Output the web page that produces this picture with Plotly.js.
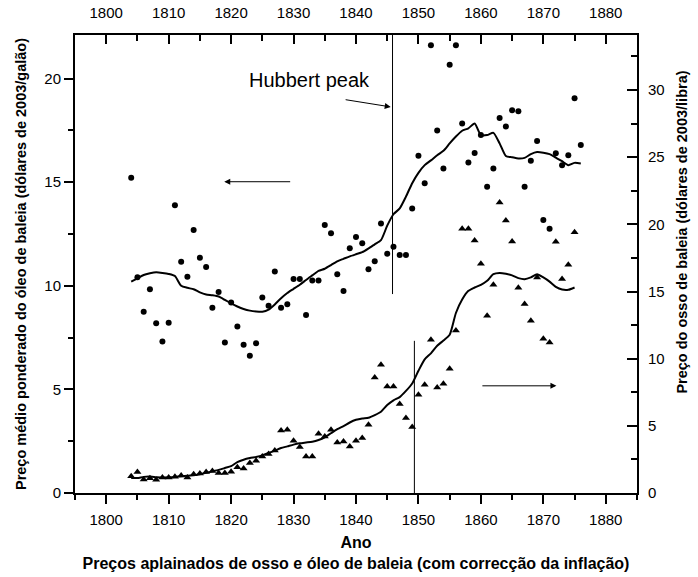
<!DOCTYPE html>
<html>
<head>
<meta charset="utf-8">
<script src="https://cdn.plot.ly/plotly-3.0.1.min.js"></script>
<style>html,body{margin:0;padding:0;background:#fff;}#chart{width:698px;height:577px;}</style>
</head>
<body>
<div id="chart"></div>
<script>
// ---- data ----
const oilYears = [1804,1805,1806,1807,1808,1809,1810,1811,1812,1813,1814,1815,1816,1817,1818,1819,1820,1821,1822,1823,1824,1825,1826,1827,1828,1829,1830,1831,1832,1833,1834,1835,1836,1837,1838,1839,1840,1841,1842,1843,1844,1845,1846,1847,1848,1849,1850,1851,1852,1853,1854,1855,1856,1857,1858,1859,1860,1861,1862,1863,1864,1865,1866,1867,1868,1869,1870,1871,1872,1873,1874,1875,1876];
const oilPrice = [15.21,10.41,8.75,9.83,8.19,7.31,8.22,13.89,11.16,10.43,12.69,11.35,10.91,8.94,9.70,7.26,9.19,8.03,7.15,6.62,7.23,9.43,9.03,10.69,8.94,9.11,10.33,10.33,8.59,10.25,10.25,12.93,12.53,10.56,9.75,11.81,12.35,12.05,10.80,11.18,13.01,11.55,11.88,11.48,11.48,13.73,16.27,14.95,21.60,17.49,15.66,20.66,21.60,17.83,15.95,16.41,17.28,14.78,15.66,18.09,17.69,18.47,18.42,14.78,16.03,16.98,13.17,12.75,16.39,15.82,16.30,19.05,16.79];
const oilSmooth = [10.20,10.36,10.52,10.60,10.65,10.62,10.57,10.47,10.00,9.90,9.83,9.68,9.58,9.54,9.48,9.32,9.15,9.00,8.88,8.80,8.76,8.75,8.85,9.10,9.40,9.65,9.85,10.05,10.28,10.50,10.72,10.82,11.00,11.18,11.30,11.42,11.52,11.62,11.80,12.00,12.20,12.90,13.45,13.73,14.30,14.95,15.45,15.82,16.05,16.30,16.51,16.87,17.20,17.48,17.60,17.83,17.27,17.27,17.38,16.87,16.26,16.20,16.14,16.17,16.35,16.45,16.42,16.35,16.18,16.01,15.82,15.93,15.90];

const boneYears = [1804,1805,1806,1807,1808,1809,1810,1811,1812,1813,1814,1815,1816,1817,1818,1819,1820,1821,1822,1823,1824,1825,1826,1827,1828,1829,1830,1831,1832,1833,1834,1835,1836,1837,1838,1839,1840,1841,1842,1843,1844,1845,1846,1847,1848,1849,1850,1851,1852,1853,1854,1855,1856,1857,1858,1859,1860,1861,1862,1863,1864,1865,1866,1867,1868,1869,1870,1871,1872,1873,1874,1875];
const bonePrice = [1.24,1.56,1.01,1.09,0.99,1.16,1.16,1.21,1.31,1.16,1.40,1.45,1.56,1.64,1.49,1.49,1.58,1.91,1.83,2.23,2.40,2.72,2.90,3.17,4.66,4.71,3.89,3.42,2.72,2.72,4.41,4.21,4.71,3.76,3.84,3.47,3.89,4.09,5.08,8.60,9.55,7.93,7.93,6.62,5.58,4.91,7.31,8.06,11.41,7.86,8.13,9.25,12.10,19.67,19.67,18.80,17.06,13.19,15.50,21.62,20.28,18.72,15.28,14.08,12.82,16.04,11.48,11.21,18.70,15.94,16.99,19.42];
const boneSmooth = [1.12,1.12,1.20,1.22,1.18,1.15,1.17,1.20,1.25,1.28,1.33,1.40,1.50,1.61,1.72,1.86,2.00,2.30,2.48,2.60,2.68,2.80,2.98,3.15,3.35,3.47,3.60,3.70,3.76,3.82,3.95,4.15,4.45,4.75,4.98,5.25,5.45,5.55,5.60,5.80,6.05,6.55,6.90,7.14,7.60,8.15,9.10,9.95,10.40,10.96,11.35,11.78,13.40,14.40,15.05,15.30,15.50,15.80,16.29,16.38,16.32,16.20,16.00,15.92,16.05,16.29,16.05,15.74,15.35,15.15,15.13,15.30];

const xTickVals = [1800,1810,1820,1830,1840,1850,1860,1870,1880];
const xTickText = ['1800','1810','1820','1830','1840','1850','1860','1870','1880'];

// marker lines
const hubbertYear = [1845.85, 1845.85];
const hubbertOil = [9.6, 22.1];
const boneMarkYear = [1849.35, 1849.35];
const boneMarkVal = [0, 11.33];

// annotation positions (data units)
const hubbertLabel = {x: 1832.5, y: 19.95, text: 'Hubbert peak'};
const hubbertArrow = {x0: 1838.1, y0: 18.99, x1: 1845.56, y1: 18.63};
const oilArrow = {x0: 1829.7, y0: 15.02, x1: 1818.9, y1: 15.02};
const boneArrow = {x0: 1860.0, y0: 7.98, x1: 1872.1, y1: 7.98};

const tickFont = {family: '"Liberation Sans", Arial, sans-serif', size: 15, color: '#000'};
const titleFont = {family: '"Liberation Sans", Arial, sans-serif', size: 16, color: '#000'};
const yTitleFont = {family: '"Liberation Sans", Arial, sans-serif', size: 14.5, color: '#000'};

const traces = [
  {x: oilYears, y: oilPrice, type: 'scatter', mode: 'markers', xaxis: 'x', yaxis: 'y',
   marker: {symbol: 'circle', size: 6, color: '#000'}, hoverinfo: 'skip'},
  {x: oilYears, y: oilSmooth, type: 'scatter', mode: 'lines', xaxis: 'x', yaxis: 'y',
   line: {color: '#000', width: 2, shape: 'spline', smoothing: 0.6}, hoverinfo: 'skip'},
  {x: boneYears, y: bonePrice, type: 'scatter', mode: 'markers', xaxis: 'x', yaxis: 'y2',
   marker: {symbol: 'triangle-up', size: 7, color: '#000'}, hoverinfo: 'skip'},
  {x: boneYears, y: boneSmooth, type: 'scatter', mode: 'lines', xaxis: 'x', yaxis: 'y2',
   line: {color: '#000', width: 2, shape: 'spline', smoothing: 0.6}, hoverinfo: 'skip'},
  {x: hubbertYear, y: hubbertOil, type: 'scatter', mode: 'lines', xaxis: 'x2', yaxis: 'y',
   line: {color: '#000', width: 1}, hoverinfo: 'skip'},
  {x: boneMarkYear, y: boneMarkVal, type: 'scatter', mode: 'lines', xaxis: 'x', yaxis: 'y2',
   line: {color: '#000', width: 1}, hoverinfo: 'skip'}
];

function arrow(a, yref) {
  return {x: a.x1, y: a.y1, ax: a.x0, ay: a.y0, xref: 'x', yref: yref, axref: 'x', ayref: yref,
    text: '', showarrow: true, arrowhead: 2, arrowsize: 1.2, arrowwidth: 1, arrowcolor: '#000', standoff: 0, startstandoff: 0};
}

const layout = {
  width: 698, height: 577,
  margin: {l: 75, r: 61, t: 35, b: 84, pad: 0},
  paper_bgcolor: '#fff', plot_bgcolor: '#fff',
  showlegend: false,
  font: {family: '"Liberation Sans", Arial, sans-serif', color: '#000'},
  xaxis: {
    range: [1795, 1885], tickmode: 'array', tickvals: xTickVals, ticktext: xTickText,
    ticks: 'outside', ticklen: 9, tickwidth: 2, tickcolor: '#000',
    minor: {tickmode: 'linear', tick0: 1795, dtick: 5, ticks: 'outside', ticklen: 5, tickwidth: 2, tickcolor: '#000'},
    showline: true, linewidth: 2, linecolor: '#000', showgrid: false, zeroline: false,
    tickfont: tickFont, anchor: 'y', ticklabelstandoff: 3,
    title: {text: '<b>Ano</b><br><b>Preços aplainados de osso e óleo de baleia (com correcção da inflação)</b>', font: titleFont, standoff: 10}
  },
  xaxis2: {
    range: [1795, 1885], overlaying: 'x', side: 'top', anchor: 'y', tickmode: 'array', tickvals: xTickVals, ticktext: xTickText,
    ticks: 'inside', ticklen: 9, tickwidth: 2, tickcolor: '#000',
    minor: {tickmode: 'linear', tick0: 1795, dtick: 5, ticks: 'inside', ticklen: 6, tickwidth: 2, tickcolor: '#000'},
    showline: true, linewidth: 2, linecolor: '#000', showgrid: false, zeroline: false,
    tickfont: tickFont, ticklabelstandoff: 9
  },
  yaxis: {
    range: [0, 22.1], tickmode: 'linear', tick0: 0, dtick: 5,
    ticks: 'outside', ticklen: 9, tickwidth: 2, tickcolor: '#000',
    minor: {tickmode: 'linear', tick0: 0, dtick: 2.5, ticks: 'outside', ticklen: 5, tickwidth: 2, tickcolor: '#000'},
    showline: true, linewidth: 2, linecolor: '#000', showgrid: false, zeroline: false,
    tickfont: tickFont, anchor: 'x',
    title: {text: '<b>Preço médio ponderado do óleo de baleia (dólares de 2003/galão)</b>', font: yTitleFont, standoff: 14}
  },
  yaxis2: {
    range: [0, 34.1], overlaying: 'y', side: 'right', anchor: 'x', tickmode: 'linear', tick0: 0, dtick: 5,
    ticks: 'inside', ticklen: 10, tickwidth: 2, tickcolor: '#000',
    minor: {tickmode: 'linear', tick0: 0, dtick: 2.5, ticks: 'inside', ticklen: 6, tickwidth: 2, tickcolor: '#000'},
    showline: true, linewidth: 2, linecolor: '#000', showgrid: false, zeroline: false,
    tickfont: tickFont, ticklabelstandoff: 6
  },
  annotations: [
    {x: hubbertLabel.x, y: hubbertLabel.y, xref: 'x', yref: 'y', text: hubbertLabel.text, showarrow: false,
     font: {family: '"Liberation Sans", Arial, sans-serif', size: 20, color: '#000'}, xanchor: 'center', yanchor: 'middle'},
    arrow(hubbertArrow, 'y'),
    arrow(oilArrow, 'y'),
    arrow(boneArrow, 'y2'),
    {xref: 'paper', yref: 'paper', x: 1.0795, y: 0.570, textangle: -90, showarrow: false,
     xanchor: 'center', yanchor: 'middle',
     text: '<b>Preço do osso de baleia (dólares de 2003/libra)</b>', font: yTitleFont}
  ]
};

Plotly.newPlot('chart', traces, layout, {staticPlot: true, displayModeBar: false});
</script>
</body>
</html>
